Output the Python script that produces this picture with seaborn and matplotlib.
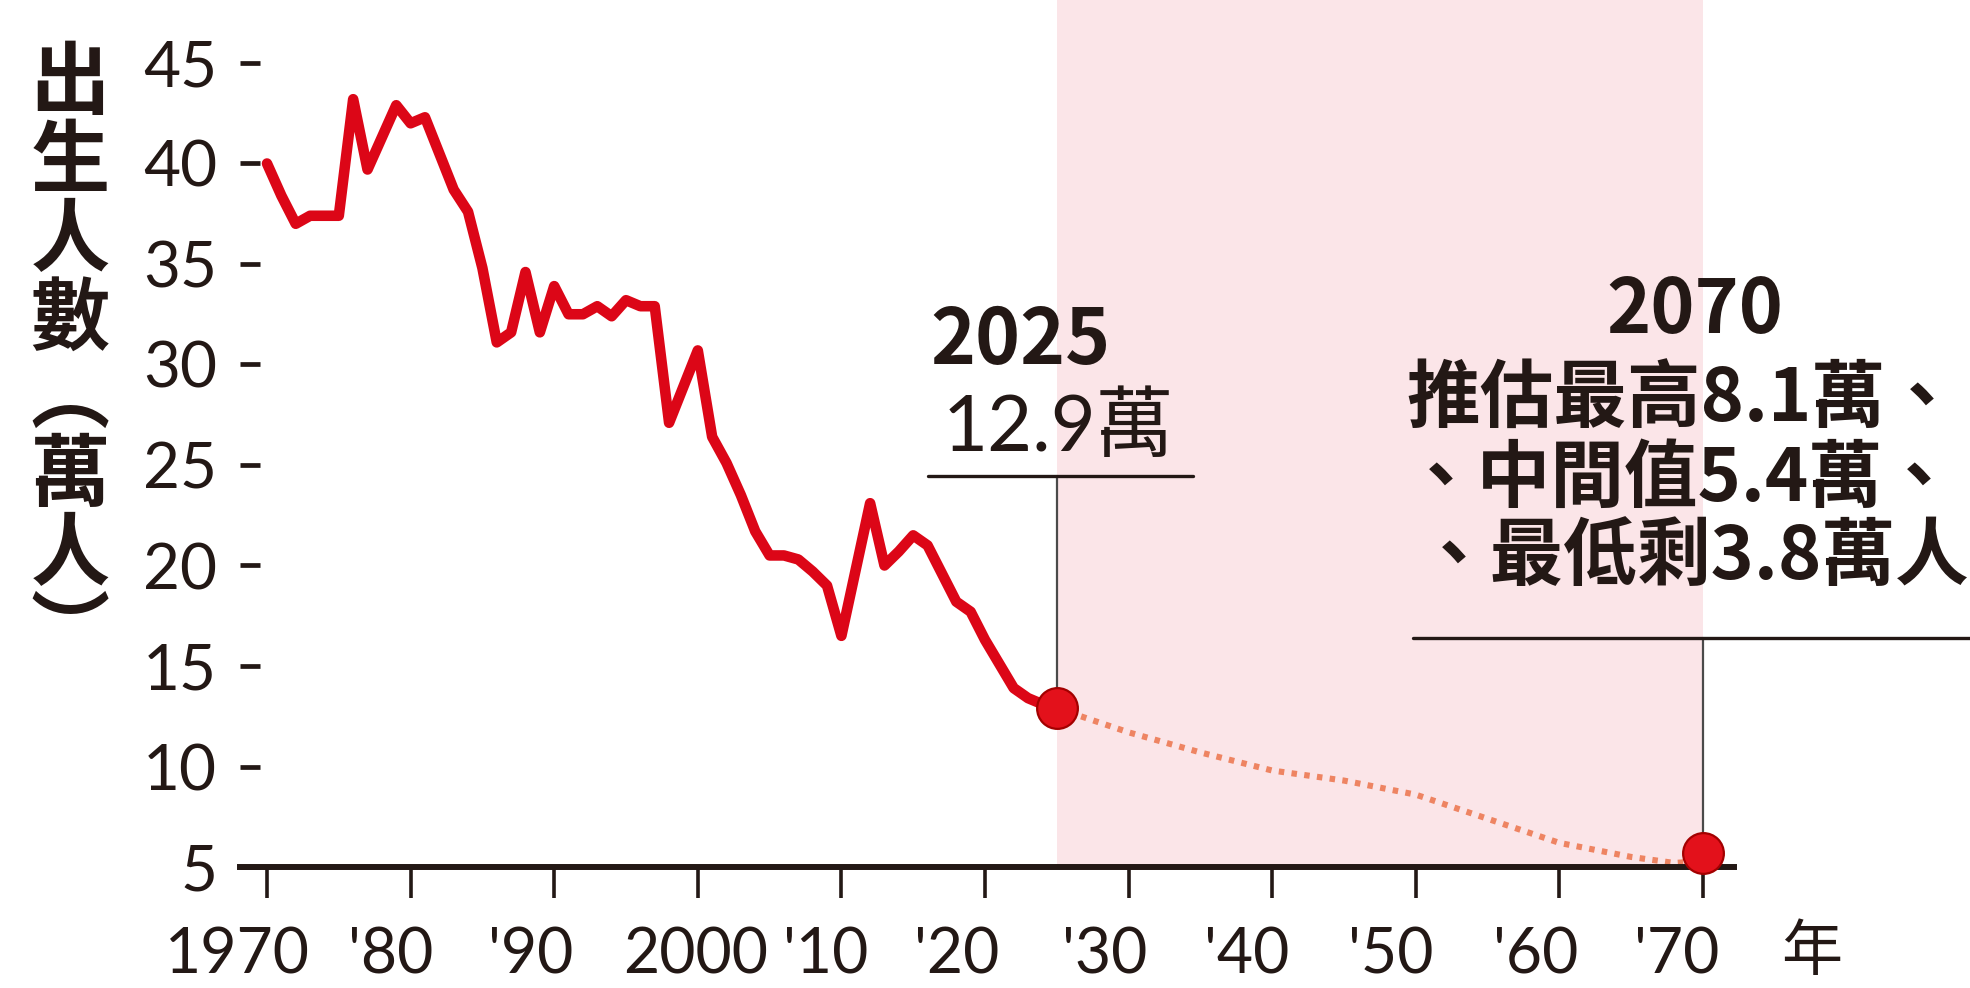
import matplotlib
matplotlib.use("Agg")
import matplotlib.pyplot as plt
import matplotlib.transforms as mtransforms
import seaborn as sns
from matplotlib.lines import Line2D

# ---------------- data ----------------
years = list(range(1970, 2026))
births = [40.0, 38.4, 37.0, 37.4, 37.4, 37.4, 43.2, 39.7, 41.3, 42.9,
          42.0, 42.3, 40.5, 38.7, 37.6, 34.8, 31.1, 31.6, 34.6, 31.6,
          33.9, 32.5, 32.5, 32.9, 32.4, 33.2, 32.9, 32.9, 27.1, 28.9,
          30.7, 26.4, 25.1, 23.5, 21.7, 20.5, 20.5, 20.3, 19.7, 19.0,
          16.5, 19.8, 23.1, 20.0, 20.7, 21.5, 21.0, 19.6, 18.2, 17.7,
          16.3, 15.1, 13.9, 13.4, 13.1, 12.9]

proj_years = [2025, 2030, 2035, 2040, 2045, 2050, 2055, 2060, 2065, 2068, 2070]
proj_vals = [12.9, 11.7, 10.7, 9.8, 9.3, 8.6, 7.4, 6.2, 5.5, 5.2, 5.3]

hl_years = [2025, 2070]
hl_vals = [12.9, 5.7]

xtick_vals = [1970, 1980, 1990, 2000, 2010, 2020, 2030, 2040, 2050, 2060, 2070]
xtick_labels = ["1970", "'80", "'90", "2000", "'10", "'20", "'30", "'40", "'50", "'60", "'70"]
ytick_vals = [5, 10, 15, 20, 25, 30, 35, 40, 45]
ytick_labels = ["5", "10", "15", "20", "25", "30", "35", "40", "45"]

ylabel_text = "出生人數︵萬人︶"
label_2025_year = "2025"
label_2025_val = "12.9萬"
label_2070_year = "2070"
label_2070_lines = ["推估最高8.1萬、", "、中間值5.4萬、", "、最低剩3.8萬人"]
year_unit = "年"

# ---------------- style ----------------
sns.set_theme(style="white")
plt.rcParams["font.family"] = ["Lato", "Noto Sans CJK TC", "DejaVu Sans"]
CJK = ["Noto Sans CJK TC", "DejaVu Sans"]
INK = "#231815"
RED = "#dc0617"

W, H = 1970, 988
fig = plt.figure(figsize=(W / 100, H / 100), dpi=100)
fig.patch.set_facecolor("white")

ax_left, ax_right, ax_bottom = 240, 1734, 867
ax = fig.add_axes([ax_left / W, 1 - ax_bottom / H, (ax_right - ax_left) / W, ax_bottom / H])
ax.set_facecolor("none")

px_per_year = 14.36
px_per_unit = 20.1
x0 = 1970 - (267 - ax_left) / px_per_year
ax.set_xlim(x0, x0 + (ax_right - ax_left) / px_per_year)
ax.set_ylim(5, 5 + ax_bottom / px_per_unit)

def px_to_data(px_x, px_y):
    return ax.transData.inverted().transform((px_x, H - px_y))

# shaded projection band
ax.axvspan(2025, 2070, color="#fbe5e8", zorder=0, lw=0)

# historical line
sns.lineplot(x=years, y=births, ax=ax, color=RED, linewidth=7.6,
             solid_joinstyle="round", solid_capstyle="round", zorder=3)
# projection (dotted)
sns.lineplot(x=proj_years, y=proj_vals, ax=ax, color="#ee8462", linewidth=4.4,
             linestyle=(0, (0.9, 1.2)), dash_capstyle="butt", zorder=3)

# annotation leader lines
_, y_top_2025 = px_to_data(1058, 476)
_, y_top_2070 = px_to_data(1703, 638)
ax.plot([2025, 2025], [hl_vals[0], y_top_2025], color="#4a4a4a", lw=1.6, zorder=2)
ax.plot([2070, 2070], [hl_vals[1], y_top_2070], color="#4a4a4a", lw=1.6, zorder=2,
        clip_on=False)

# highlight markers
sns.scatterplot(x=hl_years, y=hl_vals, ax=ax, s=860, color="#e3111b",
                edgecolor="#a30000", linewidth=1.6, zorder=6, clip_on=False)

# axes styling
for s in ["top", "right", "left"]:
    ax.spines[s].set_visible(False)
ax.spines["bottom"].set_color(INK)
ax.spines["bottom"].set_linewidth(4.3)
ax.spines["bottom"].set_zorder(4)

ax.set_xticks(xtick_vals)
ax.set_xticklabels(xtick_labels)
ax.set_yticks(ytick_vals)
ax.set_yticklabels(ytick_labels)
ax.tick_params(axis="x", direction="out", length=22, width=2.6, color=INK,
               pad=21, labelsize=45, labelcolor=INK, bottom=True)
ax.tick_params(axis="y", direction="in", length=14.4, width=3.4, color=INK,
               pad=16.5, labelsize=46, labelcolor=INK, left=True)
ax.set_xlabel("")
ax.set_ylabel("")
ax.grid(False)

# x tick labels sit slightly left of their ticks (except 2000)
xlabel_shift_px = [-30, -20, -24, -2, -16, -28, -24, -26, -25, -24, -26]
for lab, dx in zip(ax.get_xticklabels(), xlabel_shift_px):
    lab.set_transform(lab.get_transform() +
                      mtransforms.ScaledTranslation(dx / 100, 0, fig.dpi_scale_trans))

# ---------------- texts ----------------
def ftext(px_x, px_y, s, **kw):
    return fig.text(px_x / W, 1 - px_y / H, s, **kw)

# vertical y-axis title
ftext(70, 44, "\n".join(ylabel_text), ha="center", va="top", fontsize=57,
      fontweight="bold", family=CJK, color=INK, linespacing=0.96)

# year unit
ftext(1812, 953, year_unit, ha="center", va="center", fontsize=44, family=CJK, color=INK)

# 2025 annotation
ftext(1020, 341, label_2025_year, ha="center", va="center", fontsize=55,
      fontweight="bold", family=CJK, color=INK)
ftext(1058, 429, label_2025_val, ha="center", va="center", fontsize=56,
      family=["Lato", "Noto Sans CJK TC"], color=INK)
fig.add_artist(Line2D([928 / W, 1193 / W], [1 - 476 / H, 1 - 476 / H],
                      color=INK, lw=2.4, transform=fig.transFigure))

# 2070 annotation
ftext(1695, 311, label_2070_year, ha="center", va="center", fontsize=54,
      fontweight="bold", family=CJK, color=INK)
for (cx, cy), line in zip([(1683, 401), (1680, 480), (1693, 558)], label_2070_lines):
    ftext(cx, cy, line, ha="center", va="center", fontsize=53,
          fontweight="bold", family=CJK, color=INK)
fig.add_artist(Line2D([1413 / W, 1.0], [1 - 638 / H, 1 - 638 / H],
                      color=INK, lw=2.4, transform=fig.transFigure))

fig.savefig("out.png", dpi=100, facecolor="white")
